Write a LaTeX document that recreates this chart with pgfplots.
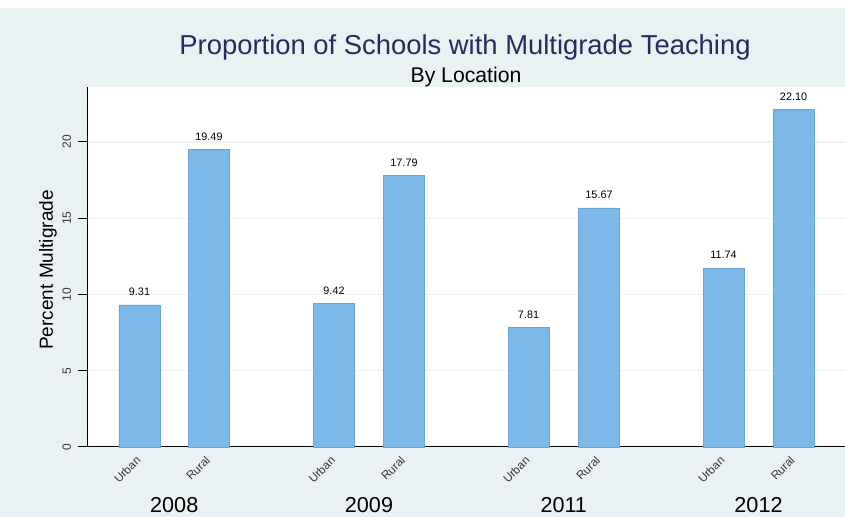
\documentclass[border=0pt]{standalone}
\usepackage{fontspec}
\setmainfont{Liberation Sans}
\usepackage{pgfplots}
\pgfplotsset{compat=1.18}
\definecolor{bg}{RGB}{234,241,243}
\definecolor{barblue}{RGB}{124,184,232}
\definecolor{baredge}{RGB}{104,164,218}
\definecolor{titleblue}{RGB}{35,45,95}
\definecolor{gridc}{RGB}{238,241,243}
\begin{document}
\begin{tikzpicture}
\useasboundingbox (-44pt,-35pt) rectangle (378.5pt,223.5pt);
\fill[bg] (-44pt,-35pt) rectangle (378.5pt,223.5pt);
\fill[white] (-44pt,219.5pt) rectangle (378.5pt,223.5pt);
\begin{axis}[
  at={(0,0)}, anchor=south west, scale only axis,
  width=378.5pt, height=180pt,
  xmin=88, xmax=845, ymin=0, ymax=23.6,
  axis lines*=left,
  axis line style={black, line width=0.5pt},
  axis background/.style={fill=white},
  ybar, bar width=41, bar shift=0pt,
  xtick={139.5,209,334,404,528.5,599,723.5,793.5},
  xticklabels={Urban,Rural,Urban,Rural,Urban,Rural,Urban,Rural},
  x tick label style={rotate=45, anchor=north east, font=\fontsize{5.8}{7}\selectfont, inner sep=1pt, text=black!80, yshift=3.2pt, xshift=0.3pt},
  major x tick style={draw=none},
  ytick={0,5,10,15,20},
  y tick label style={rotate=90, anchor=south, font=\fontsize{6}{7}\selectfont, text=black!80},
  major y tick style={black, line width=0.5pt},
  tick align=outside, major tick length=5pt,
  ymajorgrids, grid style={gridc, line width=0.6pt},
  /pgf/number format/assume math mode=true,
  nodes near coords,
  nodes near coords style={/pgf/number format/fixed, /pgf/number format/fixed zerofill, /pgf/number format/precision=2, font=\fontsize{5.4}{6}\selectfont, text=black, yshift=1pt},
  clip=false,
]
\addplot[fill=barblue, draw=baredge, line width=0.4pt] coordinates {
  (139.5,9.31) (209,19.49) (334,9.42) (404,17.79)
  (528.5,7.81) (599,15.67) (723.5,11.74) (793.5,22.10)
};
\node[font=\fontsize{10.8}{12}\selectfont, text=black] at (axis cs:174.25,0) [yshift=-29pt] {2008};
\node[font=\fontsize{10.8}{12}\selectfont, text=black] at (axis cs:369,0) [yshift=-29pt] {2009};
\node[font=\fontsize{10.8}{12}\selectfont, text=black] at (axis cs:563.75,0) [yshift=-29pt] {2011};
\node[font=\fontsize{10.8}{12}\selectfont, text=black] at (axis cs:758.5,0) [yshift=-29pt] {2012};
\end{axis}
\node[font=\fontsize{13.7}{15}\selectfont, text=titleblue] at (188.5pt,200pt) {Proportion of Schools with Multigrade Teaching};
\node[font=\fontsize{10.6}{12}\selectfont, text=black] at (189pt,185pt) {By Location};
\node[font=\fontsize{9.5}{11}\selectfont, text=black, rotate=90] at (-20pt,88.5pt) {Percent Multigrade};
\end{tikzpicture}
\end{document}
